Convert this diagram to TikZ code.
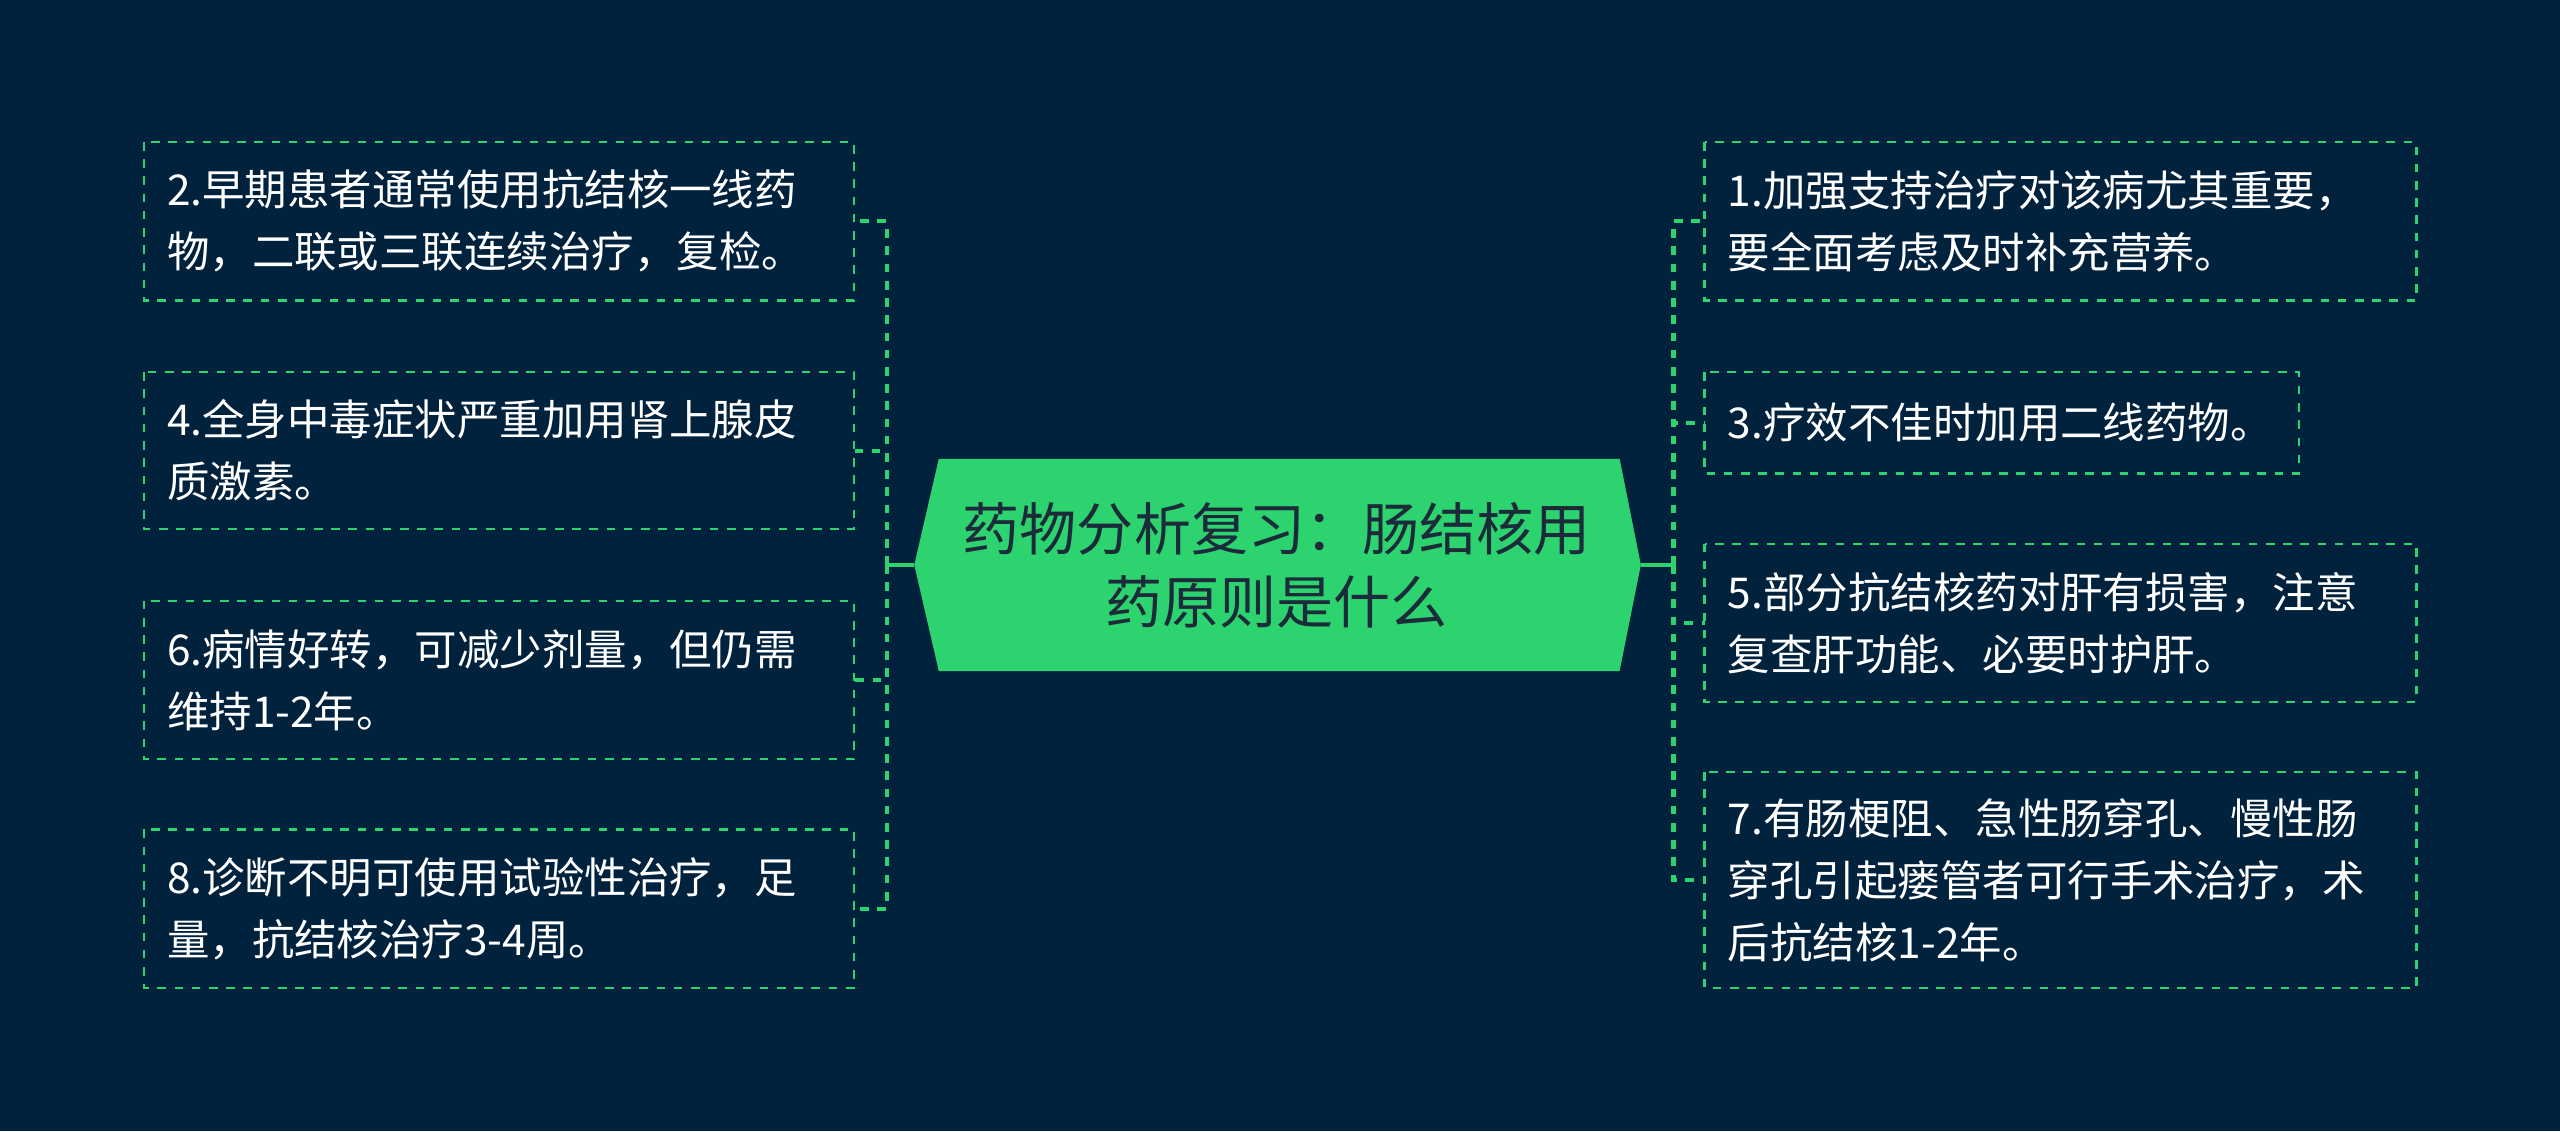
\documentclass[tikz,border=0pt]{standalone}
\usepackage{fontspec}
\setmainfont{Noto Sans CJK SC}
\definecolor{bg}{HTML}{01223D}
\definecolor{gr}{HTML}{2DD36F}
\definecolor{tx}{HTML}{1B2B3A}
\begin{document}
\begin{tikzpicture}[x=0.02cm,y=-0.02cm,
  con/.style={draw=gr,line width=1.4pt,dashed},
  stub/.style={draw=gr,line width=1.5pt}]
\fill[bg] (0,0) rectangle (1568,693);
\useasboundingbox (0,0) rectangle (1568,693);
\fill[gr] (560,346) -- (575,281) -- (992,281) -- (1005,346) -- (992,411) -- (575,411) -- cycle;
\node[text=tx,font=\fontsize{19.9}{25.5}\selectfont,align=center] (c) at (782,346) {药物分析复习：肠结核用\\药原则是什么};
\coordinate (cl) at (560,346); \coordinate (cr) at (1005,346);
\coordinate (sl) at (543,346); \coordinate (sr) at (1025,346);
\draw[stub] (cl) -- (sl); \draw[stub] (cr) -- (sr);
\newcommand{\bx}[6]{\draw[draw=gr,dashed,line width=0.8pt] (#2,#3) rectangle (#4,#5);
  \node[anchor=west,inner sep=0pt,text=white,font=\fontsize{14.8}{21.6}\selectfont,align=left] (#1) at ({#2+14},{(#3+#5)/2}) {#6};
  \coordinate (#1w) at (#2,{(#3+#5)/2}); \coordinate (#1e) at (#4,{(#3+#5)/2});}
\bx{l1}{88}{87}{523}{184}{2.早期患者通常使用抗结核一线药\\物，二联或三联连续治疗，复检。}
\bx{l2}{88}{228}{523}{324}{4.全身中毒症状严重加用肾上腺皮\\质激素。}
\bx{l3}{88}{368}{523}{465}{6.病情好转，可减少剂量，但仍需\\维持1-2年。}
\bx{l4}{88}{508}{523}{605}{8.诊断不明可使用试验性治疗，足\\量，抗结核治疗3-4周。}
\bx{r1}{1044}{87}{1480}{184}{1.加强支持治疗对该病尤其重要，\\要全面考虑及时补充营养。}
\bx{r2}{1044}{228}{1408}{290}{3.疗效不佳时加用二线药物。}
\bx{r3}{1044}{333}{1480}{430}{5.部分抗结核药对肝有损害，注意\\复查肝功能、必要时护肝。}
\bx{r4}{1044}{473}{1480}{605}{7.有肠梗阻、急性肠穿孔、慢性肠\\穿孔引起瘘管者可行手术治疗，术\\后抗结核1-2年。}
\foreach \n in {l1,l2,l3,l4} \draw[con] (sl) |- (\n e);
\foreach \n in {r1,r2,r3,r4} \draw[con] (sr) |- (\n w);
\end{tikzpicture}
\end{document}
